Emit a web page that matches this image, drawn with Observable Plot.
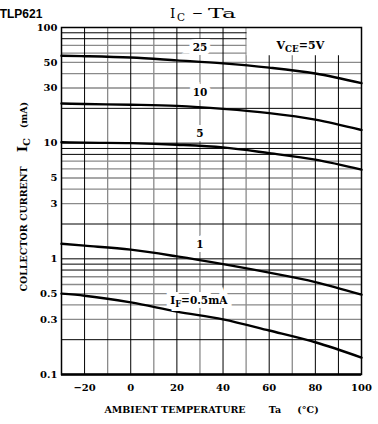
<!DOCTYPE html>
<html><head><meta charset="utf-8">
<script src="https://cdn.jsdelivr.net/npm/d3@7"></script>
<script src="https://cdn.jsdelivr.net/npm/@observablehq/plot@0.6"></script>
<style>body{margin:0;background:#fff}</style>
</head><body><div id="chart"></div>
<script>
// ---- data ----
const temps = [-30, -20, 0, 20, 40, 60, 80, 100];
const ic25  = [57, 56.5, 55, 52, 49, 45, 40, 33];
const ic10  = [22, 21.8, 21.5, 21, 19.8, 18.2, 16, 13];
const ic5   = [10.2, 10.1, 10, 9.7, 9.2, 8.2, 7.2, 5.9];
const ic1   = [1.35, 1.3, 1.2, 1.05, 0.9, 0.76, 0.63, 0.49];
const ic05  = [0.5, 0.48, 0.42, 0.35, 0.3, 0.24, 0.19, 0.14];

const seriesNames = ["25", "10", "5", "1", "0.5"];
const seriesValues = [ic25, ic10, ic5, ic1, ic05];

// curve labels (text, x at Ta, y at Ic)
const labelText = ["25", "10", "5", "1", "I|F|=0.5mA"];
const labelTa   = [30, 30, 30, 30, 29.5];
const labelIc   = [67, 27.6, 12.2, 1.32, 0.436];

const xTicks = [-20, 0, 20, 40, 60, 80, 100];
const yTicks = [0.1, 0.3, 0.5, 1, 3, 5, 10, 30, 50, 100];
const yTickLabels = ["0.1", "0.3", "0.5", "1", "3", "5", "10", "30", "50", "100"];
const xGridBlack = [-20, 0, 20, 40, 60, 80, 90];
const xGridGray  = [-10, 10, 30, 50, 70];
const decades = [0.1, 1, 10];
const yGridBlack = decades.flatMap(d => [1, 2, 8, 9].map(m => +(m * d).toPrecision(3)));
const yGridGray  = decades.flatMap(d => [3, 4, 5, 6, 7].map(m => +(m * d).toPrecision(3)));

const boxTa = [50, 100];
const boxIc = [57, 100];
const condText = ["V|CE|=5V"];
const condTa = [73.5];
const condIc = [70];

// ---- build tables ----
const rows = seriesNames.flatMap((name, i) =>
  temps.map((t, j) => ({series: name, t, ic: seriesValues[i][j]})));
const labels = labelText.map((s, i) => ({s, t: labelTa[i], ic: labelIc[i]}));
const yTickRows = yTicks.map((v, i) => ({v, s: yTickLabels[i]}));

const serif = "DejaVu Serif";

const chart = Plot.plot({
  width: 378, height: 424,
  marginLeft: 61, marginRight: 17, marginTop: 27, marginBottom: 50,
  style: {fontFamily: serif, fontSize: "10px", fontWeight: "bold", background: "white", color: "black"},
  x: {domain: [-30, 100], ticks: xTicks, tickSize: 0, tickPadding: 9, label: null},
  y: {type: "log", domain: [0.1, 100], axis: null},
  marks: [
    Plot.ruleX(xGridGray, {stroke: "#8a8a8a", strokeWidth: 1.3}),
    Plot.ruleY(yGridGray, {stroke: "#8a8a8a", strokeWidth: 1.3}),
    Plot.ruleX(xGridBlack, {stroke: "#000", strokeWidth: 1}),
    Plot.ruleY(yGridBlack, {stroke: "#000", strokeWidth: 1}),
    Plot.rect([0], {x1: () => boxTa[0], x2: () => boxTa[1], y1: () => boxIc[0], y2: () => boxIc[1], fill: "white", insetLeft: 1}),
    Plot.line(rows, {x: "t", y: "ic", z: "series", stroke: "black", strokeWidth: 2.4, curve: "monotone-x"}),
    Plot.text(labels, {x: "t", y: "ic", text: "s", fill: "white", stroke: "white", strokeWidth: 8, strokeLinejoin: "miter", fontSize: 10.5, fontWeight: "bold", fontFamily: serif}),
    Plot.text(labels, {x: "t", y: "ic", text: "s", fill: "black", fontSize: 10.5, fontWeight: "bold", fontFamily: serif}),
    Plot.text(condText, {x: () => condTa[0], y: () => condIc[0], text: d => d, fill: "black", fontSize: 11, fontWeight: "bold", fontFamily: serif}),
    Plot.text(yTickRows, {y: "v", text: "s", frameAnchor: "left", textAnchor: "end", dx: -4, fill: "black", fontSize: 10, fontWeight: "bold", fontFamily: serif}),
    Plot.frame({stroke: "black", strokeWidth: 1.5}),
    Plot.ruleY([0.1], {stroke: "black", strokeWidth: 2.5})
  ]
});

// rich text: segments separated by "|" alternate normal/subscript
const svgNS = "http://www.w3.org/2000/svg";
d3.select(chart).selectAll("text").each(function() {
  const s = this.textContent;
  if (!s.includes("|")) return;
  const parts = s.split("|");
  this.textContent = "";
  parts.forEach((p, i) => {
    const ts = document.createElementNS(svgNS, "tspan");
    ts.textContent = p;
    if (i > 0) ts.setAttribute("dy", i % 2 === 1 ? "3" : "-3");
    if (i % 2 === 1) ts.setAttribute("font-size", "0.8em");
    this.appendChild(ts);
  });
});

const svg = d3.select(chart);
// top-left id
svg.append("text").attr("x", 21).attr("y", 18)
  .attr("font-family", "Liberation Sans, Arial, sans-serif").attr("font-weight", "bold").attr("font-size", 12)
  .attr("fill", "black").text("TLP621");
// title Ic − Ta, piece by piece
function tpiece(x, y, s, size, anchor, len) {
  const t = svg.append("text").attr("x", x).attr("y", y).attr("text-anchor", anchor)
    .attr("font-family", serif).attr("font-weight", "normal").attr("font-size", size).attr("fill", "black").text(s);
  if (len) t.attr("textLength", len).attr("lengthAdjust", "spacingAndGlyphs");
}
tpiece(170, 18, "I", 13.5, "start");
tpiece(177, 20.5, "C", 10.5, "start");
tpiece(197.5, 18, "\u2212", 13.5, "middle");
tpiece(208, 18, "Ta", 13.5, "start", 28);
// y axis label pieces (rotated)
function yLab(cy, build) {
  const t = svg.append("text").attr("transform", `translate(27,${cy}) rotate(-90)`)
    .attr("text-anchor", "middle").attr("font-family", serif).attr("font-weight", "bold")
    .attr("font-size", 9.5).attr("fill", "black");
  build(t);
}
yLab(229, t => t.text("COLLECTOR CURRENT"));
yLab(145, t => { t.append("tspan").attr("font-size", 13).text("I"); t.append("tspan").attr("font-size", 10).attr("dy", 3).text("C"); });
yLab(115, t => t.text("(mA)"));
// x axis label pieces
function xLab(cx, s) {
  svg.append("text").attr("x", cx).attr("y", 413).attr("text-anchor", "middle")
    .attr("font-family", serif).attr("font-weight", "bold").attr("font-size", 9.5).attr("fill", "black").text(s);
}
xLab(175, "AMBIENT TEMPERATURE");
xLab(275, "Ta");
xLab(308, "(\u00B0C)");

document.getElementById("chart").appendChild(chart);
</script>
</body></html>
